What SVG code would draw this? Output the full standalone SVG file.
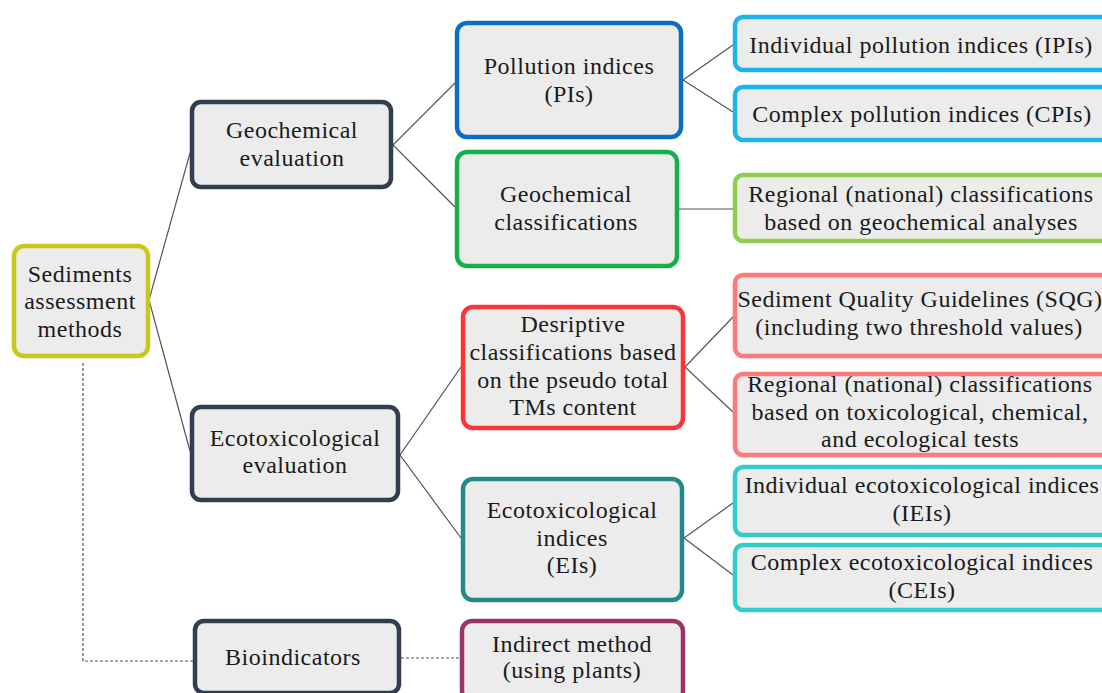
<svg xmlns="http://www.w3.org/2000/svg" width="1102" height="693" viewBox="0 0 1102 693">
<style>
.box{fill:#ececec;stroke-width:4.5}
.t{font-family:"Liberation Serif","DejaVu Serif",serif;font-size:24px;letter-spacing:0.5px;fill:#1a1a1a;text-anchor:middle}
.c{stroke:#555;stroke-width:1.2;fill:none}
.d{stroke:#555;stroke-width:1.2;fill:none;stroke-dasharray:3 2}
</style>
<rect width="1102" height="693" fill="#fff"/>
<g id="connectors">
<polyline class="c" points="190,153 149,300 190,451"/>
<polyline class="c" points="455,83 393,145 455,207"/>
<polyline class="c" points="733,45 683,80 733,112"/>
<line class="c" x1="678" y1="209" x2="735" y2="209"/>
<polyline class="c" points="461,367 400,455 461,538"/>
<polyline class="c" points="733,317 685,367 733,412"/>
<polyline class="c" points="733,503 684,538 733,575"/>
<polyline class="d" points="83,363 83,661 193,661"/>
<line class="d" x1="401" y1="658" x2="460" y2="658"/>
</g>
<g id="sediments">
<rect class="box" x="14" y="246" width="134" height="110" rx="10" stroke="#c8c81a"/>
<text class="t" x="80" y="282">Sediments</text>
<text class="t" x="80" y="309">assessment</text>
<text class="t" x="80" y="337">methods</text>
</g>
<g id="geo-eval">
<rect class="box" x="192" y="102" width="199" height="85" rx="9" stroke="#323e50"/>
<text class="t" x="292" y="138">Geochemical</text>
<text class="t" x="292" y="166">evaluation</text>
</g>
<g id="eco-eval">
<rect class="box" x="192" y="407" width="206" height="93" rx="9" stroke="#323e50"/>
<text class="t" x="295" y="446">Ecotoxicological</text>
<text class="t" x="295" y="473">evaluation</text>
</g>
<g id="bioindicators">
<rect class="box" x="195" y="621" width="204" height="72" rx="9" stroke="#323e50"/>
<text class="t" x="293" y="665">Bioindicators</text>
</g>
<g id="pi">
<rect class="box" x="457" y="23" width="224" height="114" rx="10" stroke="#0a6fc2"/>
<text class="t" x="569" y="74">Pollution indices</text>
<text class="t" x="569" y="102">(PIs)</text>
</g>
<g id="geo-class">
<rect class="box" x="457" y="152" width="220" height="114" rx="10" stroke="#16b04a"/>
<text class="t" x="566" y="202">Geochemical</text>
<text class="t" x="566" y="230">classifications</text>
</g>
<g id="desc">
<rect class="box" x="463" y="307" width="220" height="121" rx="10" stroke="#fb3535"/>
<text class="t" x="573" y="332">Desriptive</text>
<text class="t" x="573" y="360">classifications based</text>
<text class="t" x="573" y="388">on the pseudo total</text>
<text class="t" x="573" y="415">TMs content</text>
</g>
<g id="ei">
<rect class="box" x="463" y="479" width="219" height="121" rx="10" stroke="#238a84"/>
<text class="t" x="572" y="518">Ecotoxicological</text>
<text class="t" x="572" y="546">indices</text>
<text class="t" x="572" y="573">(EIs)</text>
</g>
<g id="indirect">
<rect class="box" x="462" y="621" width="221" height="80" rx="10" stroke="#9b3566"/>
<text class="t" x="572" y="652">Indirect method</text>
<text class="t" x="572" y="678">(using plants)</text>
</g>
<g id="ipi">
<rect class="box" x="735" y="17" width="380" height="53" rx="8" stroke="#1cb3ee"/>
<text class="t" x="921" y="53">Individual pollution indices (IPIs)</text>
</g>
<g id="cpi">
<rect class="box" x="735" y="87" width="380" height="53" rx="8" stroke="#1cb3ee"/>
<text class="t" x="922" y="122">Complex pollution indices (CPIs)</text>
</g>
<g id="regional-geo">
<rect class="box" x="735" y="175" width="380" height="66" rx="8" stroke="#90cf4e"/>
<text class="t" x="921" y="202">Regional (national) classifications</text>
<text class="t" x="921" y="230">based on geochemical analyses</text>
</g>
<g id="sqg">
<rect class="box" x="735" y="275" width="380" height="81" rx="8" stroke="#fd7a7c"/>
<text class="t" x="920" y="307">Sediment Quality Guidelines (SQG)</text>
<text class="t" x="919" y="335">(including two threshold values)</text>
</g>
<g id="regional-tox">
<rect class="box" x="735" y="374" width="380" height="81" rx="8" stroke="#fd7a7c"/>
<text class="t" x="920" y="392">Regional (national) classifications</text>
<text class="t" x="920" y="420">based on toxicological, chemical,</text>
<text class="t" x="920" y="447">and ecological tests</text>
</g>
<g id="iei">
<rect class="box" x="735" y="467" width="380" height="68" rx="8" stroke="#33cccc"/>
<text class="t" x="922" y="493">Individual ecotoxicological indices</text>
<text class="t" x="922" y="521">(IEIs)</text>
</g>
<g id="cei">
<rect class="box" x="735" y="545" width="380" height="65" rx="8" stroke="#33cccc"/>
<text class="t" x="922" y="570">Complex ecotoxicological indices</text>
<text class="t" x="922" y="598">(CEIs)</text>
</g>
</svg>
